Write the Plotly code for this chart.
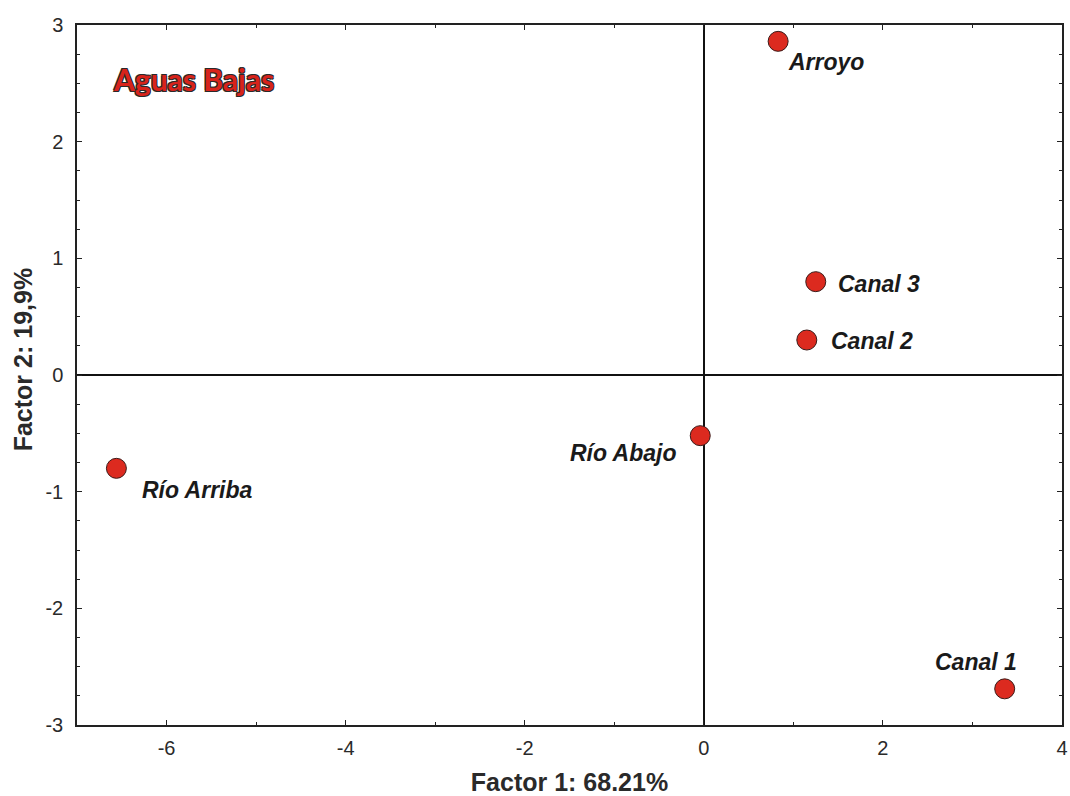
import plotly.graph_objects as go

# Factor scores of the sampling sites (low-water season)
sites = ["Arroyo", "Canal 3", "Canal 2", "Río Abajo", "Río Arriba", "Canal 1"]
factor1 = [0.83, 1.25, 1.15, -0.04, -6.56, 3.36]
factor2 = [2.86, 0.80, 0.30, -0.52, -0.80, -2.69]

# axis tick values and their labels (plain hyphen minus)
x_ticks = [-6, -4, -2, 0, 2, 4]
x_tick_text = ["-6", "-4", "-2", "0", "2", "4"]
y_ticks = [-3, -2, -1, 0, 1, 2, 3]
y_tick_text = ["-3", "-2", "-1", "0", "1", "2", "3"]

# label placement around each marker (anchor, x shift px, y shift px)
label_place = {
    "Arroyo": ("left", 8, -21),
    "Canal 3": ("left", 20, -2),
    "Canal 2": ("left", 22, -1),
    "Río Abajo": ("right", -22, -17),
    "Río Arriba": ("left", 24, -22),
    "Canal 1": ("center", -29, 27),
}

fig = go.Figure()
fig.add_trace(go.Scatter(
    x=factor1, y=factor2, mode="markers",
    marker=dict(size=20, color="#dc2a1f", line=dict(color="#3a1a18", width=1)),
    hoverinfo="text", text=sites, showlegend=False,
))

for name, fx, fy in zip(sites, factor1, factor2):
    anchor, dx, dy = label_place[name]
    fig.add_annotation(
        x=fx, y=fy, text=f"<b><i>{name}</i></b>", showarrow=False,
        xanchor=anchor, yanchor="middle", xshift=dx, yshift=dy,
        font=dict(family="Liberation Sans, Arial", size=23, color="#1a1a1a"),
    )

fig.add_annotation(
    x=0.035, y=0.923, xref="paper", yref="paper",
    text="<b>Aguas Bajas</b>", showarrow=False, xanchor="left", yanchor="middle",
    font=dict(family="Lato", size=30, color="#d8231b",
              shadow="1px 1px 0 #2a2a2a, -1px -1px 0 #2a2a2a, 1px -1px 0 #2a2a2a, -1px 1px 0 #2a2a2a"),
)

# vertical axis title
fig.add_annotation(
    x=0, y=0.521, xref="paper", yref="paper", xshift=-54,
    text="<b>Factor 2: 19,9%</b>", showarrow=False, textangle=-90,
    xanchor="center", yanchor="middle",
    font=dict(family="Liberation Sans, Arial", size=25, color="#2a2a2a"),
)

axis_common = dict(
    showline=True, linecolor="#222", linewidth=1.5, mirror="ticks",
    ticks="inside", ticklen=5, tickwidth=1.2, tickcolor="#222",
    showgrid=False, zeroline=True, zerolinecolor="#111", zerolinewidth=1.5,
    ticklabeloverflow="allow",
    tickfont=dict(family="Liberation Sans, Arial", size=20, color="#2a2a2a"),
)

fig.update_xaxes(
    range=[-7, 4], tickvals=x_ticks, ticktext=x_tick_text,
    ticklabelstandoff=4,
    minor=dict(dtick=1, ticks="inside", ticklen=3, tickcolor="#222"),
    title=dict(text="<b>Factor 1: 68.21%</b>", standoff=18,
               font=dict(family="Liberation Sans, Arial", size=25, color="#2a2a2a")),
    **axis_common,
)
fig.update_yaxes(
    range=[-3, 3], tickvals=y_ticks, ticktext=y_tick_text,
    ticklabelstandoff=8,
    minor=dict(dtick=0.25, ticks="inside", ticklen=3, tickcolor="#222"),
    **axis_common,
)

fig.update_layout(
    width=1070, height=796,
    margin=dict(l=77, r=8, t=25, b=71, autoexpand=False),
    plot_bgcolor="white", paper_bgcolor="white",
)

fig.write_html("out.html")
